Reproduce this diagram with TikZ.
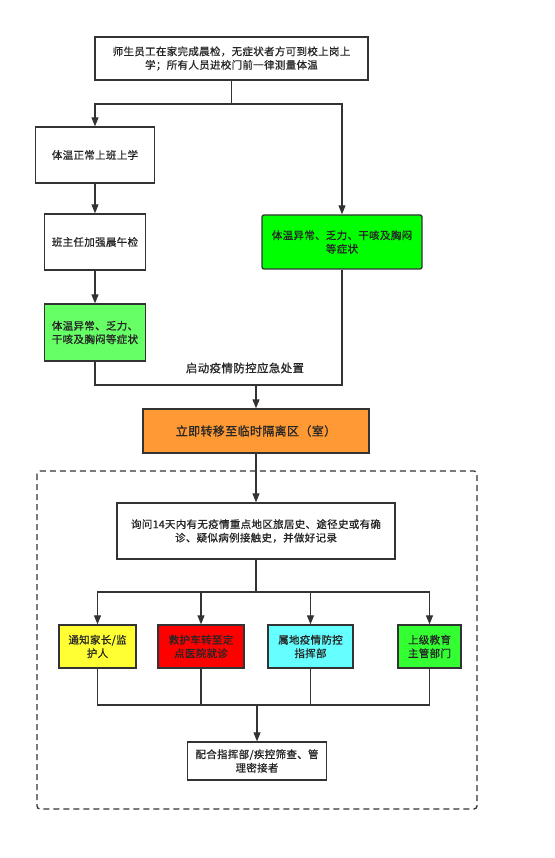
\documentclass[tikz,border=0pt]{standalone}
\usepackage{fontspec}
\setmainfont{Noto Sans CJK SC}[FakeBold=0.8, LetterSpace=3]
\usetikzlibrary{arrows.meta}
\definecolor{ln}{HTML}{333333}
\definecolor{gA}{HTML}{00FF00}
\definecolor{gB}{HTML}{66FF66}
\definecolor{orA}{HTML}{FF9933}
\definecolor{yA}{HTML}{FFFF33}
\definecolor{rA}{HTML}{FF0000}
\definecolor{cA}{HTML}{66FFFF}
\definecolor{gC}{HTML}{33FF33}
\tikzset{
  box/.style={draw=ln, line width=1.3pt, fill=white, align=center, inner sep=2pt, font=\fontsize{10.5}{13.5}\selectfont, text=black!85},
  conn/.style={draw=ln, line width=1.1pt},
  arr/.style={conn, -{Triangle[length=9pt,width=7pt]}},
}
\begin{document}
\begin{tikzpicture}[x=1pt,y=-1pt]
\useasboundingbox (0,0) rectangle (554,858);
\draw[draw=ln, line width=1.3pt, dashed, dash pattern=on 6pt off 4pt, rounded corners=3pt] (37,471) rectangle (477,809);

\node[box, minimum width=273pt, minimum height=43pt] (top) at (231.5,58.5) {师生员工在家完成晨检，无症状者方可到校上岗上\\学；所有人员进校门前一律测量体温};
\node[box, minimum width=119pt, minimum height=56pt] (n1) at (95,155) {体温正常上班上学};
\node[box, minimum width=101pt, minimum height=56pt] (n2) at (95,242) {班主任加强晨午检};
\node[box, fill=gB, minimum width=101pt, minimum height=57pt] (g1) at (95,332.5) {体温异常、乏力、\\干咳及胸闷等症状};
\node[box, fill=gA, rounded corners=2pt, minimum width=160pt, minimum height=54pt] (s1) at (342,242) {体温异常、乏力、干咳及胸闷\\等症状};
\node[box, fill=orA, minimum width=226pt, minimum height=44pt, font=\fontsize{12}{14}\selectfont] (iso) at (256,431) {立即转移至临时隔离区（室）};
\node[box, minimum width=278pt, minimum height=56pt] (q) at (256,531) {询问14天内有无疫情重点地区旅居史、途径史或有确\\诊、疑似病例接触史，并做好记录};
\node[box, fill=yA, minimum width=77pt, minimum height=43pt] (b1) at (97.5,646.5) {通知家长/监\\护人};
\node[box, fill=rA, minimum width=86pt, minimum height=43pt] (b2) at (201,646.5) {救护车转至定\\点医院就诊};
\node[box, fill=cA, minimum width=85pt, minimum height=43pt] (b3) at (310.5,646.5) {属地疫情防控\\指挥部};
\node[box, fill=gC, minimum width=63pt, minimum height=43pt] (b4) at (429.5,646.5) {上级教育\\主管部门};
\node[box, minimum width=139pt, minimum height=38pt] (fin) at (257,761) {配合指挥部/疾控筛查、管\\理密接者};

\node[font=\fontsize{11.5}{13}\selectfont, text=black!85] (lab) at (245,368) {启动疫情防控应急处置};

\coordinate (j1) at (231.5,104);
\coordinate (j2) at (256,385);
\coordinate (j3) at (256,592);
\coordinate (j4) at (257,705);

\draw[conn] (top.south) -- (j1);
\draw[arr] (j1) -| (n1.north);
\draw[arr] (j1) -| (s1.north);
\draw[arr] (n1) -- (n2);
\draw[arr] (n2) -- (g1);
\draw[conn] (g1.south) |- (j2);
\draw[conn] (s1.south) |- (j2);
\draw[arr] (j2) -- (iso.north);
\draw[arr] (iso.south) -- (q.north);
\draw[conn] (q.south) -- (j3);
\foreach \b in {b1,b2,b3,b4} {
  \draw[arr] (j3) -| (\b.north);
  \draw[conn] (\b.south) |- (j4);
}
\draw[arr] (j4) -- (fin.north);
\end{tikzpicture}
\end{document}
